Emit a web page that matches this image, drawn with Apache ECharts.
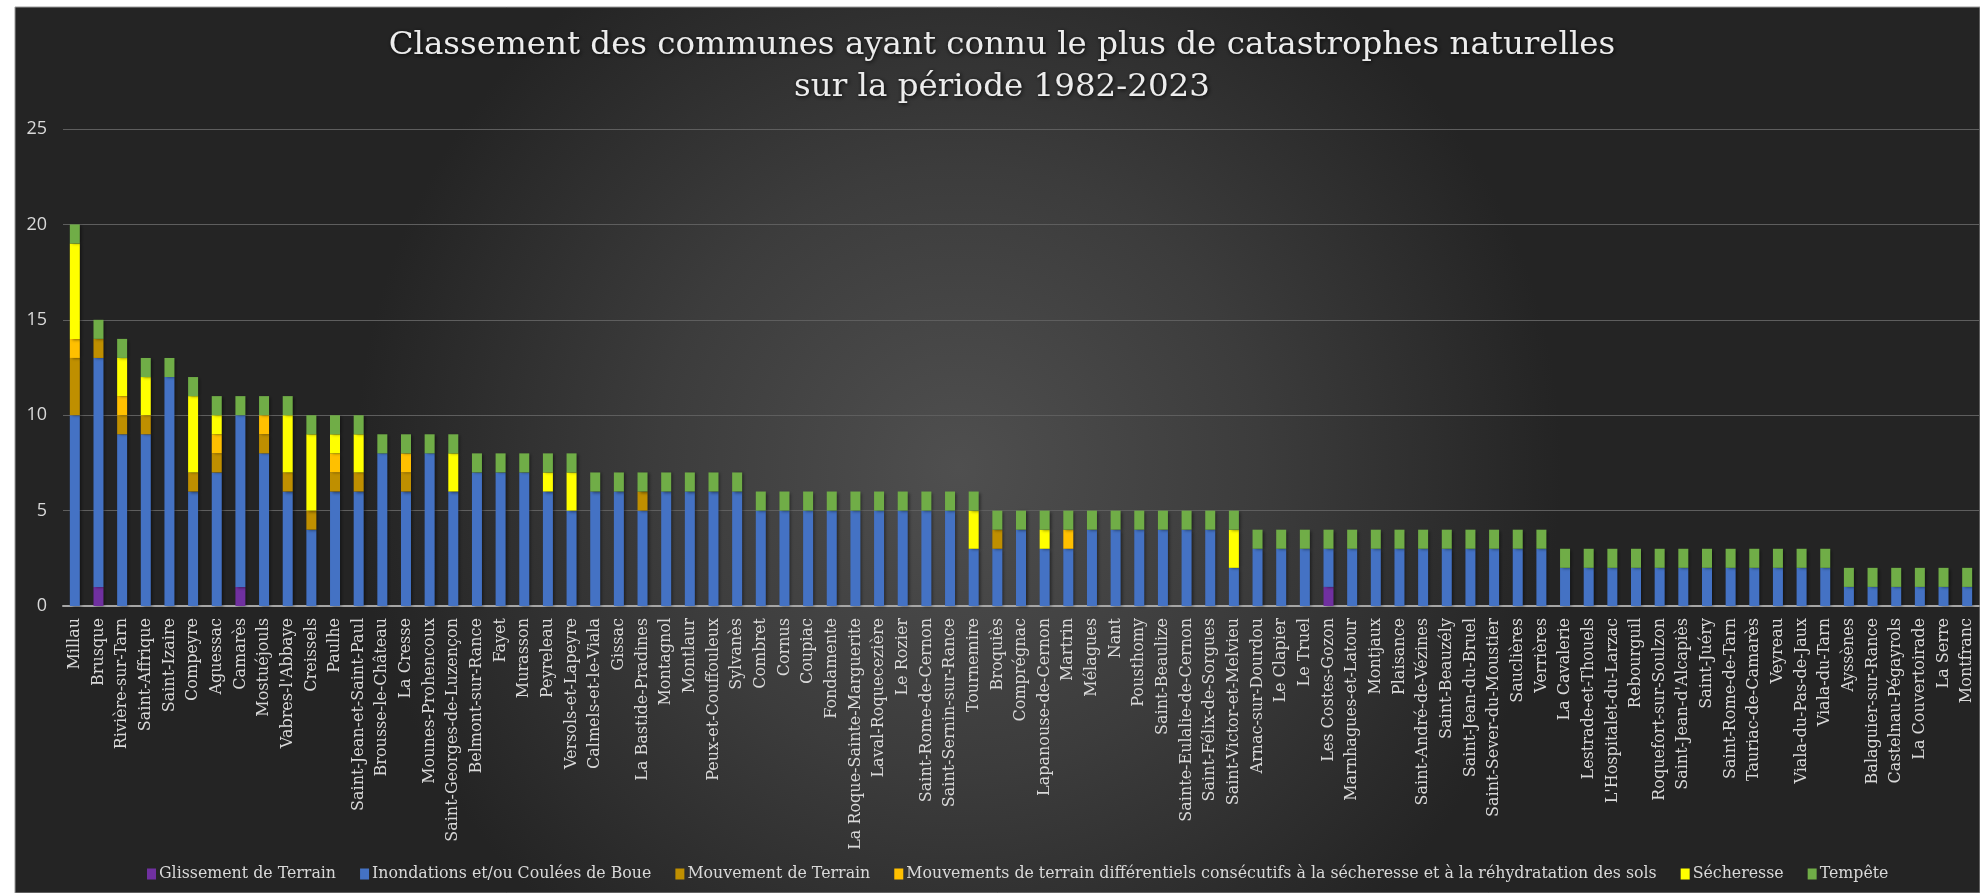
<!DOCTYPE html>
<html>
<head>
<meta charset="utf-8">
<script src="https://cdn.jsdelivr.net/npm/echarts@6/dist/echarts.min.js"></script>
<style>
  html, body { margin: 0; padding: 0; background: #ffffff; }
  #chart { width: 1980px; height: 893px; }
</style>
</head>
<body>
<div id="chart"></div>
<script>
// Communes, ranked by number of recognised natural disasters (1982-2023)
const communes = [
  "Millau", "Brusque", "Rivière-sur-Tarn", "Saint-Affrique", "Saint-Izaire", "Compeyre", "Aguessac", "Camarès", "Mostuéjouls", "Vabres-l'Abbaye",
  "Creissels", "Paulhe", "Saint-Jean-et-Saint-Paul", "Brousse-le-Château", "La Cresse", "Mounes-Prohencoux", "Saint-Georges-de-Luzençon", "Belmont-sur-Rance", "Fayet", "Murasson",
  "Peyreleau", "Versols-et-Lapeyre", "Calmels-et-le-Viala", "Gissac", "La Bastide-Pradines", "Montagnol", "Montlaur", "Peux-et-Couffouleux", "Sylvanès", "Combret",
  "Cornus", "Coupiac", "Fondamente", "La Roque-Sainte-Marguerite", "Laval-Roquecezière", "Le Rozier", "Saint-Rome-de-Cernon", "Saint-Sernin-sur-Rance", "Tournemire", "Broquiès",
  "Comprégnac", "Lapanouse-de-Cernon", "Martrin", "Mélagues", "Nant", "Pousthomy", "Saint-Beaulize", "Sainte-Eulalie-de-Cernon", "Saint-Félix-de-Sorgues", "Saint-Victor-et-Melvieu",
  "Arnac-sur-Dourdou", "Le Clapier", "Le Truel", "Les Costes-Gozon", "Marnhagues-et-Latour", "Montjaux", "Plaisance", "Saint-André-de-Vézines", "Saint-Beauzély", "Saint-Jean-du-Bruel",
  "Saint-Sever-du-Moustier", "Sauclières", "Verrières", "La Cavalerie", "Lestrade-et-Thouels", "L'Hospitalet-du-Larzac", "Rebourguil", "Roquefort-sur-Soulzon", "Saint-Jean-d'Alcapiès", "Saint-Juéry",
  "Saint-Rome-de-Tarn", "Tauriac-de-Camarès", "Veyreau", "Viala-du-Pas-de-Jaux", "Viala-du-Tarn", "Ayssènes", "Balaguier-sur-Rance", "Castelnau-Pégayrols", "La Couvertoirade", "La Serre",
  "Montfranc"
];

// Event counts per commune, one array per disaster type (stack order, bottom to top)
const glissement = [
  0,1,0,0,0,0,0,1,0,0,
  0,0,0,0,0,0,0,0,0,0,
  0,0,0,0,0,0,0,0,0,0,
  0,0,0,0,0,0,0,0,0,0,
  0,0,0,0,0,0,0,0,0,0,
  0,0,0,1,0,0,0,0,0,0,
  0,0,0,0,0,0,0,0,0,0,
  0,0,0,0,0,0,0,0,0,0,
  0
];
const inondations = [
  10,12,9,9,12,6,7,9,8,6,
  4,6,6,8,6,8,6,7,7,7,
  6,5,6,6,5,6,6,6,6,5,
  5,5,5,5,5,5,5,5,3,3,
  4,3,3,4,4,4,4,4,4,2,
  3,3,3,2,3,3,3,3,3,3,
  3,3,3,2,2,2,2,2,2,2,
  2,2,2,2,2,1,1,1,1,1,
  1
];
const mouvement = [
  3,1,1,1,0,1,1,0,1,1,
  1,1,1,0,1,0,0,0,0,0,
  0,0,0,0,1,0,0,0,0,0,
  0,0,0,0,0,0,0,0,0,1,
  0,0,0,0,0,0,0,0,0,0,
  0,0,0,0,0,0,0,0,0,0,
  0,0,0,0,0,0,0,0,0,0,
  0,0,0,0,0,0,0,0,0,0,
  0
];
const differentiels = [
  1,0,1,0,0,0,1,0,1,0,
  0,1,0,0,1,0,0,0,0,0,
  0,0,0,0,0,0,0,0,0,0,
  0,0,0,0,0,0,0,0,0,0,
  0,0,1,0,0,0,0,0,0,0,
  0,0,0,0,0,0,0,0,0,0,
  0,0,0,0,0,0,0,0,0,0,
  0,0,0,0,0,0,0,0,0,0,
  0
];
const secheresse = [
  5,0,2,2,0,4,1,0,0,3,
  4,1,2,0,0,0,2,0,0,0,
  1,2,0,0,0,0,0,0,0,0,
  0,0,0,0,0,0,0,0,2,0,
  0,1,0,0,0,0,0,0,0,2,
  0,0,0,0,0,0,0,0,0,0,
  0,0,0,0,0,0,0,0,0,0,
  0,0,0,0,0,0,0,0,0,0,
  0
];
const tempete = [
  1,1,1,1,1,1,1,1,1,1,
  1,1,1,1,1,1,1,1,1,1,
  1,1,1,1,1,1,1,1,1,1,
  1,1,1,1,1,1,1,1,1,1,
  1,1,1,1,1,1,1,1,1,1,
  1,1,1,1,1,1,1,1,1,1,
  1,1,1,1,1,1,1,1,1,1,
  1,1,1,1,1,1,1,1,1,1,
  1
];

const seriesNames = [
  "Glissement de Terrain",
  "Inondations et/ou Coulées de Boue",
  "Mouvement de Terrain",
  "Mouvements de terrain différentiels consécutifs à la sécheresse et à la réhydratation des sols",
  "Sécheresse",
  "Tempête"
];
const seriesData = [glissement, inondations, mouvement, differentiels, secheresse, tempete];
const seriesColors = ["#7030A0", "#4472C4", "#BF8F00", "#FFC000", "#FFFF00", "#70AD47"];

const yTicks = [0, 5, 10, 15, 20, 25];

const serifFont = "'DejaVu Serif', 'Liberation Serif', serif";
const textGrey = "#d9d9d9";

const chart = echarts.init(document.getElementById('chart'), null, { renderer: 'canvas' });

chart.setOption({
  backgroundColor: '#ffffff',
  animation: false,
  graphic: [
    {
      type: 'rect',
      z: -100,
      silent: true,
      shape: { x: 15, y: 7, width: 1965, height: 886 },
      style: {
        fill: new echarts.graphic.RadialGradient(0.48, 0.52, 0.68, [
          { offset: 0, color: '#4f4f4f' },
          { offset: 0.5, color: '#3c3c3c' },
          { offset: 1, color: '#242424' }
        ]),
        stroke: '#9a9a9a',
        lineWidth: 1
      }
    }
  ],
  title: {
    text: 'Classement des communes ayant connu le plus de catastrophes naturelles\nsur la période 1982-2023',
    left: 997,
    top: 20,
    textAlign: 'center',
    textStyle: {
      fontFamily: serifFont,
      fontWeight: 'normal',
      fontSize: 32.5,
      lineHeight: 42,
      align: 'center',
      color: '#ececec',
      textShadowColor: 'rgba(0,0,0,0.9)',
      textShadowBlur: 4,
      textShadowOffsetX: 1,
      textShadowOffsetY: 1
    }
  },
  legend: {
    data: seriesNames,
    left: 142,
    top: 861,
    icon: 'rect',
    itemWidth: 9,
    itemHeight: 11,
    itemGap: 24,
    textStyle: {
      fontFamily: serifFont,
      fontSize: 15.8,
      color: textGrey,
      padding: [0, 0, 0, -2]
    }
  },
  grid: {
    left: 63,
    right: 1,
    top: 129,
    bottom: 287,
    containLabel: false
  },
  xAxis: {
    type: 'category',
    data: communes,
    axisLine: { show: true, lineStyle: { color: '#a6a6a6', width: 2 } },
    axisTick: { show: false },
    axisLabel: {
      interval: 0,
      rotate: 90,
      margin: 12,
      fontFamily: serifFont,
      fontSize: 16,
      color: textGrey
    }
  },
  yAxis: {
    type: 'value',
    min: yTicks[0],
    max: yTicks[yTicks.length - 1],
    interval: yTicks[1] - yTicks[0],
    axisLine: { show: false },
    axisTick: { show: false },
    splitLine: { lineStyle: { color: '#5e5e5e', width: 1 } },
    axisLabel: {
      margin: 16,
      fontFamily: "'Open Sans', 'Liberation Sans', sans-serif",
      fontSize: 18,
      color: textGrey
    }
  },
  series: seriesNames.map((name, i) => ({
    name: name,
    type: 'bar',
    stack: 'total',
    barWidth: 10,
    data: seriesData[i],
    itemStyle: {
      color: seriesColors[i],
      shadowColor: 'rgba(0,0,0,0.45)',
      shadowBlur: 3,
      shadowOffsetX: 2,
      shadowOffsetY: 1
    }
  }))
});
</script>
</body>
</html>
